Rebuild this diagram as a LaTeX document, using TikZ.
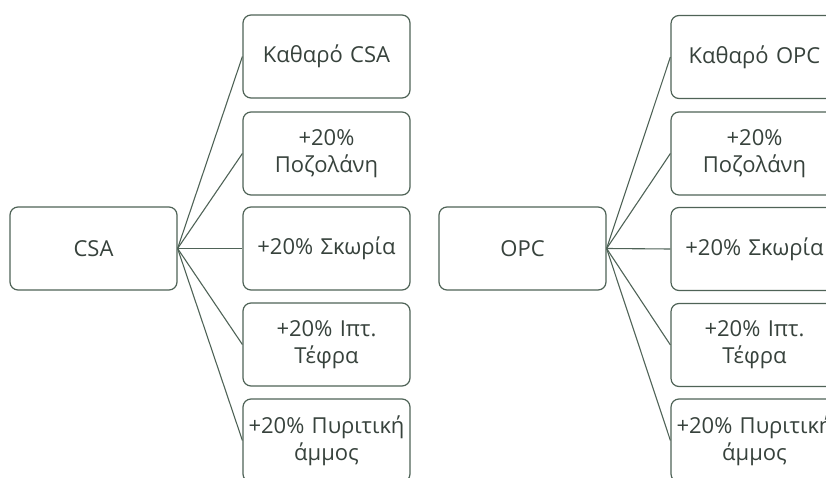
\documentclass[tikz,border=0pt]{standalone}
\usepackage{fontspec}
\setmainfont{Open Sans}
\definecolor{edgecol}{HTML}{4F6357}
\definecolor{txtcol}{HTML}{37423C}
\tikzset{
  box/.style={draw=edgecol, line width=1.2pt, rounded corners=8pt, fill=white,
    minimum width=167pt, minimum height=83pt, inner sep=1pt,
    align=center, text width=165pt, text=txtcol, font=\fontsize{22}{27}\selectfont},
  root/.style={box},
  link/.style={draw=edgecol, line width=1.1pt}
}
\begin{document}
\begin{tikzpicture}[x=1pt,y=-1pt]
\path[use as bounding box, clip] (0,0) rectangle (826,478);
% CSA tree
\node[root] (csa) at (93.5,248.5) {CSA};
\node[box] (c1) at (326.5,56.5) {Καθαρό CSA};
\node[box] (c2) at (326.5,153.5) {+20\%\\Ποζολάνη};
\node[box] (c3) at (326.5,248.5) {+20\% Σκωρία};
\node[box] (c4) at (326.5,344.5) {+20\% Ιπτ.\\Τέφρα};
\node[box] (c5) at (326.5,440.5) {+20\% Πυριτική\\άμμος};
\foreach \n in {c1,c2,c3,c4,c5} \draw[link] (csa.east) -- (\n.west);
% OPC tree
\node[root] (opc) at (522.5,248.5) {OPC};
\node[box] (o1) at (754.5,57) {Καθαρό OPC};
\node[box] (o2) at (754.5,153.5) {+20\%\\Ποζολάνη};
\node[box] (o3) at (754.5,249) {+20\% Σκωρία};
\node[box] (o4) at (754.5,345) {+20\% Ιπτ.\\Τέφρα};
\node[box] (o5) at (754.5,440.5) {+20\% Πυριτική\\άμμος};
\foreach \n in {o1,o2,o3,o4,o5} \draw[link] (opc.east) -- (\n.west);
\end{tikzpicture}
\end{document}
